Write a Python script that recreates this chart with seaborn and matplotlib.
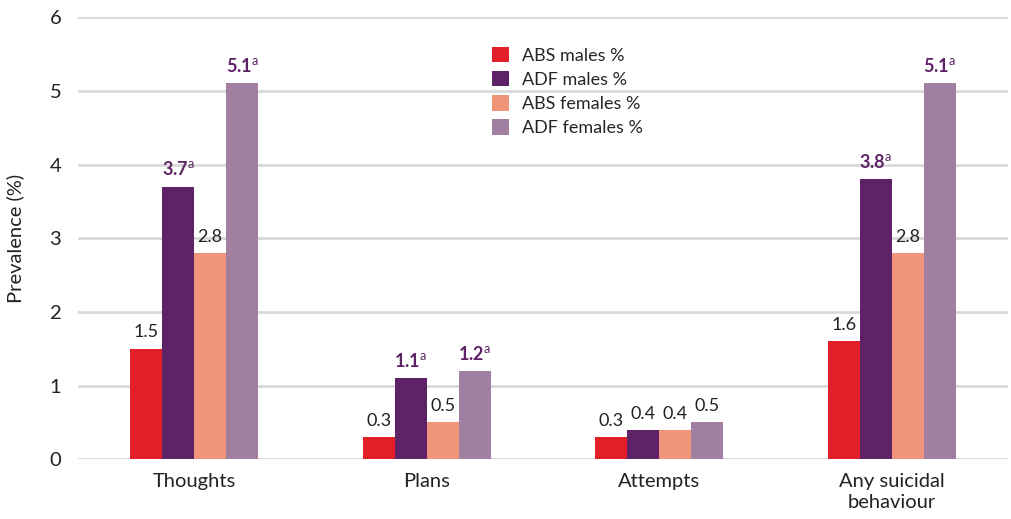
import pandas as pd
import matplotlib.pyplot as plt
import seaborn as sns

categories = ['Thoughts', 'Plans', 'Attempts', 'Any suicidal\nbehaviour']
series = ['ABS males %', 'ADF males %', 'ABS females %', 'ADF females %']
abs_males = [1.5, 0.3, 0.3, 1.6]
adf_males = [3.7, 1.1, 0.4, 3.8]
abs_females = [2.8, 0.5, 0.4, 2.8]
adf_females = [5.1, 1.2, 0.5, 5.1]
# which values carry the superscript "a" (significant difference)
sig_adf_males = [True, True, False, True]
sig_adf_females = [True, True, False, True]

colors = ['#E3202A', '#5E2366', '#F0957A', '#A07FA0']

rows = []
for s, vals in zip(series, [abs_males, adf_males, abs_females, adf_females]):
    for c, v in zip(categories, vals):
        rows.append({'Category': c, 'Series': s, 'Value': v})
df = pd.DataFrame(rows)
sig = {1: sig_adf_males, 3: sig_adf_females}

sns.set_style('white')
plt.rcParams['font.family'] = ['Lato', 'DejaVu Sans']
plt.rcParams['mathtext.fontset'] = 'custom'
plt.rcParams['mathtext.rm'] = 'Lato'
plt.rcParams['mathtext.bf'] = 'Lato:bold'

fig = plt.figure(figsize=(10.12, 5.19), dpi=100)
ax = fig.add_axes([0.077, 0.115, 0.919, 0.852])

sns.barplot(data=df, x='Category', y='Value', hue='Series', palette=colors,
            width=0.55, saturation=1, linewidth=0, ax=ax, legend=True)

for i, cont in enumerate(ax.containers):
    for j, bar in enumerate(cont):
        h = bar.get_height()
        xc = bar.get_x() + bar.get_width() / 2
        if i in sig and sig[i][j]:
            txt = r'$\mathbf{%.1f}^{\mathrm{a}}$' % h
            ax.annotate(txt, (xc, h), xytext=(0, 6), textcoords='offset points',
                        ha='center', va='bottom', fontsize=13, color='#5E2366')
        else:
            ax.annotate(f'{h:.1f}', (xc, h), xytext=(0, 6), textcoords='offset points',
                        ha='center', va='bottom', fontsize=13, color='#222222')

ax.set_ylim(0, 6)
ax.set_xlim(-0.5, 3.5)
ax.set_yticks(range(7))
ax.yaxis.grid(True, color='#D9D9D9', linewidth=2)
ax.set_axisbelow(True)
for sp in ax.spines.values():
    sp.set_visible(False)
ax.tick_params(axis='y', length=0, labelsize=14.5, colors='#222222', pad=12)
ax.tick_params(axis='x', length=0, labelsize=14.5, colors='#222222', pad=10)
for lab in ax.get_xticklabels():
    lab.set_linespacing(1.25)
ax.set_xlabel('')
ax.set_ylabel('Prevalence (%)', fontsize=14.5, color='#222222', labelpad=18)

ax.legend(loc='upper left', bbox_to_anchor=(0.428, 0.97), frameon=False,
          fontsize=13, handlelength=0.95, handleheight=0.95, labelspacing=0.4,
          handletextpad=0.7)

fig.savefig('out.png', dpi=100)
